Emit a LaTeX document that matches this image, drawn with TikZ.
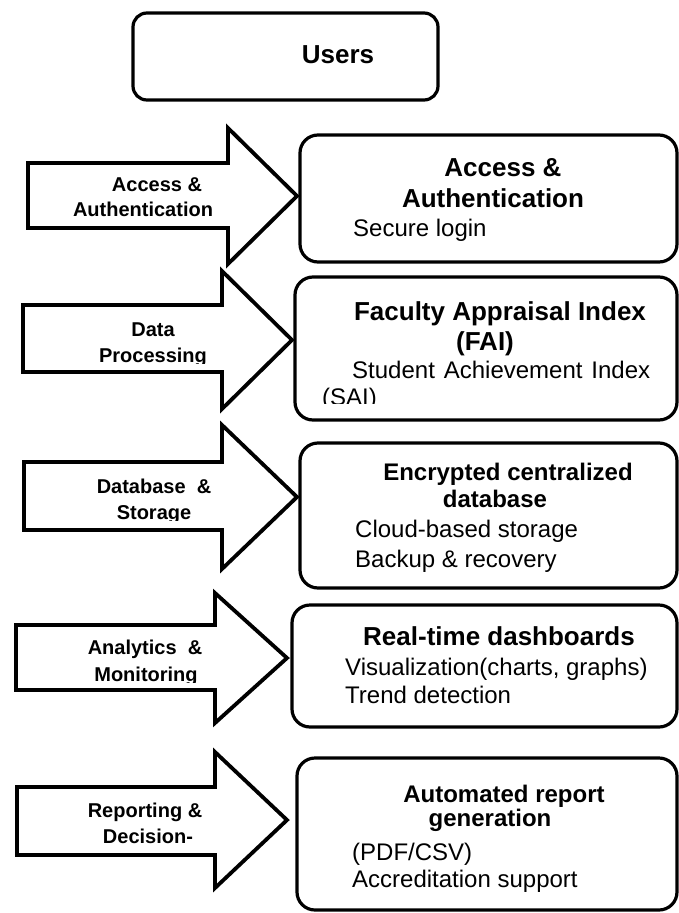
\documentclass[tikz,border=0pt]{standalone}
\usepackage{fontspec}
\setmainfont{Liberation Sans}
\begin{document}
\begin{tikzpicture}[x=1pt,y=-1pt,
  panel/.style={draw, line width=3.2pt, rounded corners=18pt, inner sep=0pt},
  blockarrow/.style={draw, line width=3.8pt, line join=miter, fill=white},
  ttl/.style={font=\fontsize{26}{30}\selectfont\bfseries, anchor=base, inner sep=0pt},
  ttls/.style={font=\fontsize{24}{28}\selectfont\bfseries, anchor=base, inner sep=0pt},
  body/.style={font=\fontsize{24}{28}\selectfont, anchor=base west, inner sep=0pt},
  lbl/.style={font=\fontsize{20}{24}\selectfont\bfseries, anchor=base, inner sep=0pt}]
\useasboundingbox (0,0) rectangle (678,913);

% top box
\node[panel, rounded corners=14pt, minimum width=305pt, minimum height=87pt] (users) at (285.5,56.5) {};
\node[ttl] (usersT) at (338,63) {Users};

% stage boxes
\node[panel, minimum width=377pt, minimum height=127pt] (b1) at (488.5,198.5) {};
\node[panel, minimum width=382pt, minimum height=143pt] (b2) at (486,348.5) {};
\node[panel, minimum width=377pt, minimum height=145pt] (b3) at (488.5,515.5) {};
\node[panel, minimum width=385pt, minimum height=122pt] (b4) at (484.5,666) {};
\node[panel, minimum width=380pt, minimum height=152pt] (b5) at (487,834) {};

% block arrows
\draw[blockarrow] (28,163) -- (228,163) -- (228,128) -- (297,196) -- (228,264) -- (228,228) -- (28,228) -- cycle;
\draw[blockarrow] (23,305) -- (222,305) -- (222,271) -- (292,340) -- (222,409) -- (222,372) -- (23,372) -- cycle;
\draw[blockarrow] (24,462) -- (222,462) -- (222,425) -- (297,497) -- (222,569) -- (222,530) -- (24,530) -- cycle;
\draw[blockarrow] (16,625) -- (215,625) -- (215,593) -- (287,658) -- (215,723) -- (215,690) -- (16,690) -- cycle;
\draw[blockarrow] (17,787) -- (215,787) -- (215,752) -- (287,820) -- (215,888) -- (215,855) -- (17,855) -- cycle;

% arrow labels
\node[lbl] (a1a) at (157,191) {Access \&};
\node[lbl] (a1b) at (143,216) {Authentication};
\node[lbl] (a2a) at (153,336) {Data};
\begin{scope}
  \clip (0,340) rectangle (230,363);
  \node[lbl] (a2b) at (153,362) {Processing};
\end{scope}
\node[lbl] (a3a) at (154,493) {Database\ \ \&};
\begin{scope}
  \clip (0,497) rectangle (230,520);
  \node[lbl] (a3b) at (154,519) {Storage};
\end{scope}
\node[lbl] (a4a) at (145,654) {Analytics \ \&};
\begin{scope}
  \clip (0,660) rectangle (230,682);
  \node[lbl] (a4b) at (146,681) {Monitoring};
\end{scope}
\node[lbl] (a5a) at (145,817) {Reporting \&};
\node[lbl] (a5b) at (148,843) {Decision-};

% box 1
\node[ttl] (t1a) at (503,176) {Access \&};
\node[ttl] (t1b) at (493,207) {Authentication};
\node[body] (s1a) at (353,236) {Secure login};

% box 2
\node[ttl] (t2a) at (500,320) {Faculty Appraisal Index};
\node[ttl] (t2b) at (485,350) {(FAI)};
\node[body] (s2a) at (352,378) {\makebox[298pt][s]{Student Achievement Index}};
\begin{scope}
  \clip (300,382) rectangle (480,403);
  \node[body] (s2b) at (322,405) {(SAI)};
\end{scope}

% box 3
\node[ttls] (t3a) at (508,480) {Encrypted centralized};
\node[ttls] (t3b) at (495,507) {database};
\node[body] (s3a) at (355,537) {Cloud-based storage};
\node[body] (s3b) at (355,567) {Backup \& recovery};

% box 4
\node[ttl] (t4a) at (499,645) {Real-time dashboards};
\node[body] (s4a) at (345,675) {Visualization(charts, graphs)};
\node[body] (s4b) at (345,703) {Trend detection};

% box 5
\node[ttls] (t5a) at (504,802) {Automated report};
\node[ttls] (t5b) at (490,826) {generation};
\node[body] (s5a) at (352,860) {(PDF/CSV)};
\node[body] (s5b) at (352,887) {Accreditation support};
\end{tikzpicture}
\end{document}
